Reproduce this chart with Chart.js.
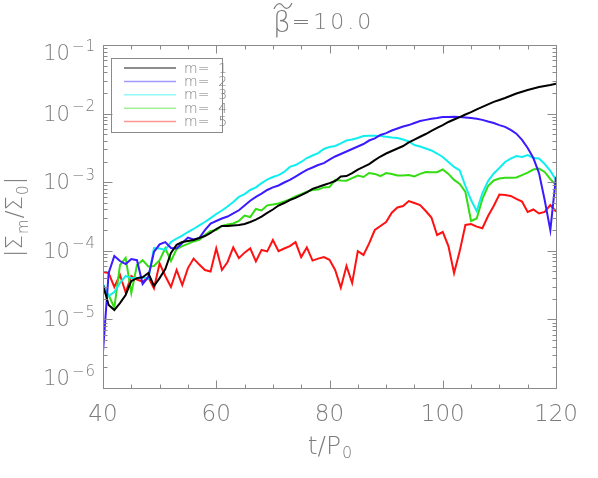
<!DOCTYPE html>
<html>
<head>
<meta charset="utf-8">
<script src="https://cdn.jsdelivr.net/npm/chart.js@4.4.0/dist/chart.umd.min.js"></script>
<style>
    html, body { margin: 0; padding: 0; background: #ffffff; }
    #wrap { width: 598px; height: 478px; }
</style>
</head>
<body>
<div id="wrap"><canvas id="sigmaChart" width="598" height="478"></canvas></div>
<script>
// time in units of P0
const times = [
    40, 41, 42, 43, 44, 45, 46, 47, 48, 49,
    50, 51, 52, 53, 54, 55, 56, 57, 58, 59,
    60, 61, 62, 63, 64, 65, 66, 67, 68, 69,
    70, 71, 72, 73, 74, 75, 76, 77, 78, 79,
    80, 81, 82, 83, 84, 85, 86, 87, 88, 89,
    90, 91, 92, 93, 94, 95, 96, 97, 98, 99,
    100, 101, 102, 103, 104, 105, 106, 107, 108, 109,
    110, 111, 112, 113, 114, 115, 116, 117, 118, 119,
    120
];

// |Sigma_m / Sigma_0| for each mode
const mode1 = [
    3.2e-5, 1.62e-5, 1.37e-5, 1.73e-5, 2.27e-5, 3.63e-5, 4.0e-5, 4.1e-5, 4.74e-5, 3.07e-5,
    4.0e-5, 5.4e-5, 9.3e-5, 1.22e-4, 1.34e-4, 1.39e-4, 1.44e-4, 1.54e-4, 1.64e-4, 1.82e-4,
    2.08e-4, 2.3e-4, 2.3e-4, 2.34e-4, 2.38e-4, 2.46e-4, 2.63e-4, 2.84e-4, 3.16e-4, 3.56e-4,
    4.0e-4, 4.57e-4, 4.97e-4, 5.5e-4, 5.9e-4, 6.5e-4, 7.1e-4, 8.0e-4, 8.5e-4, 9.1e-4,
    9.7e-4, 1.04e-3, 1.21e-3, 1.23e-3, 1.36e-3, 1.53e-3, 1.67e-3, 1.84e-3, 2.1e-3, 2.37e-3,
    2.62e-3, 2.85e-3, 3.1e-3, 3.37e-3, 3.8e-3, 4.19e-3, 4.6e-3, 5.04e-3, 5.58e-3, 6.17e-3,
    6.8e-3, 7.55e-3, 8.2e-3, 8.9e-3, 9.7e-3, 1.05e-2, 1.15e-2, 1.25e-2, 1.36e-2, 1.48e-2,
    1.58e-2, 1.69e-2, 1.82e-2, 1.96e-2, 2.08e-2, 2.21e-2, 2.32e-2, 2.44e-2, 2.53e-2, 2.62e-2,
    2.73e-2
];
const mode2 = [
    3.35e-6, 4.74e-5, 8.4e-5, 7.1e-5, 6.4e-5, 7.6e-5, 7.3e-5, 3.28e-5, 4.15e-5, 9.6e-5,
    1.24e-4, 1.34e-4, 1.10e-4, 1.08e-4, 1.30e-4, 1.56e-4, 1.46e-4, 1.53e-4, 2.0e-4, 2.5e-4,
    2.72e-4, 2.96e-4, 3.16e-4, 3.5e-4, 3.9e-4, 4.57e-4, 5.36e-4, 6.1e-4, 6.8e-4, 7.7e-4,
    8.4e-4, 8.95e-4, 9.9e-4, 1.08e-3, 1.21e-3, 1.36e-3, 1.51e-3, 1.64e-3, 1.78e-3, 1.9e-3,
    2.14e-3, 2.37e-3, 2.58e-3, 2.8e-3, 3.05e-3, 3.31e-3, 3.6e-3, 4.05e-3, 4.34e-3, 4.88e-3,
    5.2e-3, 5.67e-3, 6.07e-3, 6.49e-3, 6.8e-3, 7.3e-3, 7.8e-3, 8.1e-3, 8.4e-3, 8.6e-3,
    8.9e-3, 8.9e-3, 9.0e-3, 8.9e-3, 8.8e-3, 8.6e-3, 8.4e-3, 8.1e-3, 7.67e-3, 7.3e-3,
    6.8e-3, 6.4e-3, 5.77e-3, 5.1e-3, 4.13e-3, 3.15e-3, 2.25e-3, 1.36e-3, 5.5e-4, 2.0e-4,
    1.2e-3
];
const mode3 = [
    3.3e-5, 2.19e-5, 2.51e-5, 3.39e-5, 4.3e-5, 4.0e-5, 4.0e-5, 4.1e-5, 3.9e-5, 1.1e-4,
    1.08e-4, 1.03e-4, 1.34e-4, 1.51e-4, 1.67e-4, 1.88e-4, 2.08e-4, 2.34e-4, 2.63e-4, 3.0e-4,
    3.44e-4, 3.87e-4, 4.43e-4, 5.15e-4, 6.1e-4, 6.7e-4, 7.7e-4, 8.4e-4, 9.7e-4, 1.09e-3,
    1.19e-3, 1.27e-3, 1.41e-3, 1.67e-3, 1.78e-3, 1.97e-3, 2.25e-3, 2.45e-3, 2.66e-3, 3.05e-3,
    3.26e-3, 3.37e-3, 3.67e-3, 4.05e-3, 4.19e-3, 4.42e-3, 4.71e-3, 4.75e-3, 4.75e-3, 4.71e-3,
    4.6e-3, 4.49e-3, 4.42e-3, 4.19e-3, 3.92e-3, 3.48e-3, 3.31e-3, 3.1e-3, 2.9e-3, 2.62e-3,
    2.33e-3, 1.97e-3, 1.67e-3, 1.48e-3, 8.8e-4, 5.5e-4, 3.8e-4, 6.95e-4, 1.04e-3, 1.34e-3,
    1.61e-3, 1.97e-3, 2.21e-3, 2.41e-3, 2.33e-3, 2.49e-3, 2.25e-3, 2.21e-3, 1.84e-3, 1.46e-3,
    1.08e-3
];
const mode4 = [
    2.51e-5, 2.27e-5, 1.47e-5, 6.2e-5, 7.9e-5, 2.43e-5, 6.2e-5, 7.3e-5, 5.9e-5, 6.0e-5,
    7.3e-5, 1.09e-4, 7.1e-5, 1.06e-4, 1.17e-4, 1.26e-4, 1.37e-4, 1.44e-4, 1.7e-4, 1.94e-4,
    2.0e-4, 2.3e-4, 2.42e-4, 2.5e-4, 2.72e-4, 3.27e-4, 3.11e-4, 4.07e-4, 3.87e-4, 4.6e-4,
    4.73e-4, 4.9e-4, 5.23e-4, 5.6e-4, 6.2e-4, 6.7e-4, 7.3e-4, 7.7e-4, 7.8e-4, 8.4e-4,
    8.5e-4, 1.08e-3, 1.06e-3, 1.05e-3, 1.15e-3, 1.25e-3, 1.19e-3, 1.36e-3, 1.32e-3, 1.23e-3,
    1.36e-3, 1.32e-3, 1.25e-3, 1.25e-3, 1.27e-3, 1.21e-3, 1.32e-3, 1.41e-3, 1.4e-3, 1.4e-3,
    1.53e-3, 1.32e-3, 1.08e-3, 9.4e-4, 7.2e-4, 2.72e-4, 2.96e-4, 5.7e-4, 8.8e-4, 1.06e-3,
    1.13e-3, 1.16e-3, 1.16e-3, 1.17e-3, 1.27e-3, 1.38e-3, 1.53e-3, 1.58e-3, 1.41e-3, 1.11e-3,
    9.1e-4
];
const mode5 = [
    4.9e-5, 4.74e-5, 2.97e-5, 4.44e-5, 2.47e-5, 4.3e-5, 3.81e-5, 3.54e-5, 4.1e-5, 2.84e-5,
    6.57e-5, 4.3e-5, 2.97e-5, 5.25e-5, 3.17e-5, 5.6e-5, 7.7e-5, 6.3e-5, 5.25e-5, 5.0e-5,
    1.09e-4, 5.25e-5, 6.87e-5, 1.12e-4, 7.8e-5, 9.4e-5, 1.09e-4, 7.0e-5, 1.03e-4, 9.8e-5,
    1.44e-4, 9.9e-5, 1.08e-4, 1.17e-4, 1.34e-4, 8.1e-5, 1.12e-4, 7.2e-5, 7.7e-5, 8.1e-5,
    7.4e-5, 5.25e-5, 2.9e-5, 6.0e-5, 3.39e-5, 9.9e-5, 8.7e-5, 1.28e-4, 2.01e-4, 2.3e-4,
    2.63e-4, 3.59e-4, 4.28e-4, 4.5e-4, 5.3e-4, 4.97e-4, 4.65e-4, 3.8e-4, 3.06e-4, 1.7e-4,
    1.88e-4, 1.17e-4, 4.74e-5, 9.9e-5, 2.38e-4, 2.46e-4, 2.25e-4, 2.13e-4, 3.22e-4, 4.5e-4,
    6.6e-4, 6.5e-4, 6.3e-4, 5.7e-4, 5.23e-4, 3.68e-4, 4.0e-4, 3.5e-4, 3.68e-4, 4.65e-4,
    3.72e-4
];

const modeLabels = ['m=  1', 'm=  2', 'm=  3', 'm=  4', 'm=  5'];
const modeColors = ['#000000', '#3a1aff', '#11eeee', '#33dd11', '#ff1111'];

const xMajorTicks = [40, 60, 80, 100, 120];
const xMinorTicks = [45, 50, 55, 65, 70, 75, 85, 90, 95, 105, 110, 115];
const xTickLabels = ['40', '60', '80', '100', '120'];
const yDecades = [-6, -5, -4, -3, -2, -1];

const axisColor = '#8a8a8a';
const textColor = '#7c7c7c';
const fontFamily = '"DejaVu Sans", sans-serif';

function hLine(ctx, x1, y1, x2, y2) {
    ctx.beginPath();
    ctx.moveTo(x1, y1);
    ctx.lineTo(x2, y2);
    ctx.stroke();
}

// IDL style frame: ticks pointing inward on all four sides, labels drawn by hand
const idlFrame = {
    id: 'idlFrame',
    afterDraw(chart) {
        const ctx = chart.ctx;
        const area = chart.chartArea;
        const xs = chart.scales.x;
        const ys = chart.scales.y;
        const left = Math.round(area.left) + 0.5;
        const right = Math.round(area.right) + 0.5;
        const top = Math.round(area.top) + 0.5;
        const bottom = Math.round(area.bottom) + 0.5;

        ctx.save();
        ctx.strokeStyle = axisColor;
        ctx.lineWidth = 1;
        ctx.strokeRect(left, top, right - left, bottom - top);

        const xTick = (v, len) => {
            const px = Math.round(xs.getPixelForValue(v)) + 0.5;
            hLine(ctx, px, bottom, px, bottom - len);
            hLine(ctx, px, top, px, top + len);
        };
        xMajorTicks.forEach(v => xTick(v, 8));
        xMinorTicks.forEach(v => xTick(v, 4));

        const yTick = (v, len) => {
            const py = Math.round(ys.getPixelForValue(v)) + 0.5;
            hLine(ctx, left, py, left + len, py);
            hLine(ctx, right, py, right - len, py);
        };
        yDecades.forEach((d, i) => {
            yTick(Math.pow(10, d), 9);
            if (i < yDecades.length - 1) {
                for (let k = 2; k <= 9; k++) yTick(k * Math.pow(10, d), 4);
            }
        });

        // tick labels
        ctx.fillStyle = textColor;
        ctx.textBaseline = 'middle';
        ctx.textAlign = 'center';
        ctx.font = '200 23px ' + fontFamily;
        xMajorTicks.forEach((v, i) => {
            ctx.fillText(xTickLabels[i], xs.getPixelForValue(v), area.bottom + 27);
        });

        yDecades.forEach(d => {
            let cy = ys.getPixelForValue(Math.pow(10, d)) + 1.5;
            cy = Math.min(Math.max(cy, area.top + 10), area.bottom - 8);
            const expText = '\u2212' + Math.abs(d);
            ctx.font = '200 15px ' + fontFamily;
            ctx.letterSpacing = '1px';
            const expW = ctx.measureText(expText).width;
            ctx.textAlign = 'right';
            ctx.fillText(expText, area.left - 7, cy - 8);
            ctx.letterSpacing = '0px';
            ctx.font = '200 21px ' + fontFamily;
            ctx.fillText('10', area.left - 9 - expW, cy);
        });

        // x axis title  t/P0
        const midX = (area.left + area.right) / 2;
        ctx.font = '200 25px ' + fontFamily;
        const mainW = ctx.measureText('t/P').width;
        ctx.font = '200 16px ' + fontFamily;
        const subW = ctx.measureText('0').width;
        let sx = midX - (mainW + subW) / 2;
        ctx.textAlign = 'left';
        ctx.textBaseline = 'alphabetic';
        ctx.font = '200 25px ' + fontFamily;
        ctx.fillText('t/P', sx, area.bottom + 66);
        ctx.font = '200 16px ' + fontFamily;
        ctx.fillText('0', sx + mainW + 1, area.bottom + 70);

        // y axis title  |Sigma_m / Sigma_0|
        const parts = [
            ['|\u03A3', 23, 0], ['m', 15, 6], ['/\u03A3', 23, 0], ['0', 15, 6], ['|', 23, 0]
        ];
        let total = 0;
        parts.forEach(p => {
            ctx.font = '200 ' + p[1] + 'px ' + fontFamily;
            p.push(ctx.measureText(p[0]).width + 1);
            total += p[3];
        });
        ctx.save();
        ctx.translate(22, (area.top + area.bottom) / 2);
        ctx.rotate(-Math.PI / 2);
        let px = -total / 2;
        parts.forEach(p => {
            ctx.font = '200 ' + p[1] + 'px ' + fontFamily;
            ctx.fillText(p[0], px, p[2]);
            px += p[3];
        });
        ctx.restore();

        // title  beta-tilde = 10.0
        const tx = 273;
        ctx.font = '200 28px ' + fontFamily;
        const betaW = ctx.measureText('\u03B2').width;
        ctx.fillText('\u03B2', tx, 32);
        ctx.strokeStyle = textColor;
        ctx.lineWidth = 1.2;
        ctx.beginPath();
        ctx.moveTo(tx + 1, 9);
        ctx.bezierCurveTo(tx + 4, 2, tx + 8, 3, tx + 10, 6);
        ctx.bezierCurveTo(tx + 12, 9, tx + 16, 10, tx + betaW + 1, 3);
        ctx.stroke();
        ctx.font = '200 22px ' + fontFamily;
        ctx.letterSpacing = '3px';
        ctx.fillText('=10.0', tx + betaW + 1, 29);
        ctx.letterSpacing = '0px';

        // legend box
        const boxL = 111.5, boxT = 58.5, boxW = 111, boxH = 74;
        ctx.strokeStyle = axisColor;
        ctx.lineWidth = 1;
        ctx.strokeRect(boxL, boxT, boxW, boxH);
        ctx.textBaseline = 'middle';
        ctx.font = '200 14px ' + fontFamily;
        modeLabels.forEach((label, i) => {
            const ly = 68 + i * 13.4;
            ctx.strokeStyle = modeColors[i];
            ctx.globalAlpha = i === 0 ? 0.6 : 0.45;
            ctx.lineWidth = 1.5;
            hLine(ctx, 124, ly, 176, ly);
            ctx.globalAlpha = 1;
            ctx.fillStyle = textColor;
            ctx.fillText(label, 184, ly + 1);
        });
        ctx.restore();
    }
};

const modeSeries = [mode1, mode2, mode3, mode4, mode5];

const ctx = document.getElementById('sigmaChart').getContext('2d');
new Chart(ctx, {
    type: 'line',
    data: {
        datasets: modeSeries.map((vals, i) => ({
            label: modeLabels[i],
            data: times.map((t, j) => ({ x: t, y: vals[j] })),
            borderColor: modeColors[i],
            borderWidth: 2,
            pointRadius: 0,
            tension: 0,
            fill: false
        }))
    },
    options: {
        responsive: false,
        animation: false,
        devicePixelRatio: 1,
        layout: { padding: { left: 103, right: 42, top: 45, bottom: 90 } },
        scales: {
            x: { type: 'linear', min: 40, max: 120, display: false },
            y: { type: 'logarithmic', min: 1e-6, max: 1e-1, display: false }
        },
        plugins: {
            legend: { display: false },
            tooltip: { enabled: false }
        }
    },
    plugins: [idlFrame]
});
</script>
</body>
</html>
